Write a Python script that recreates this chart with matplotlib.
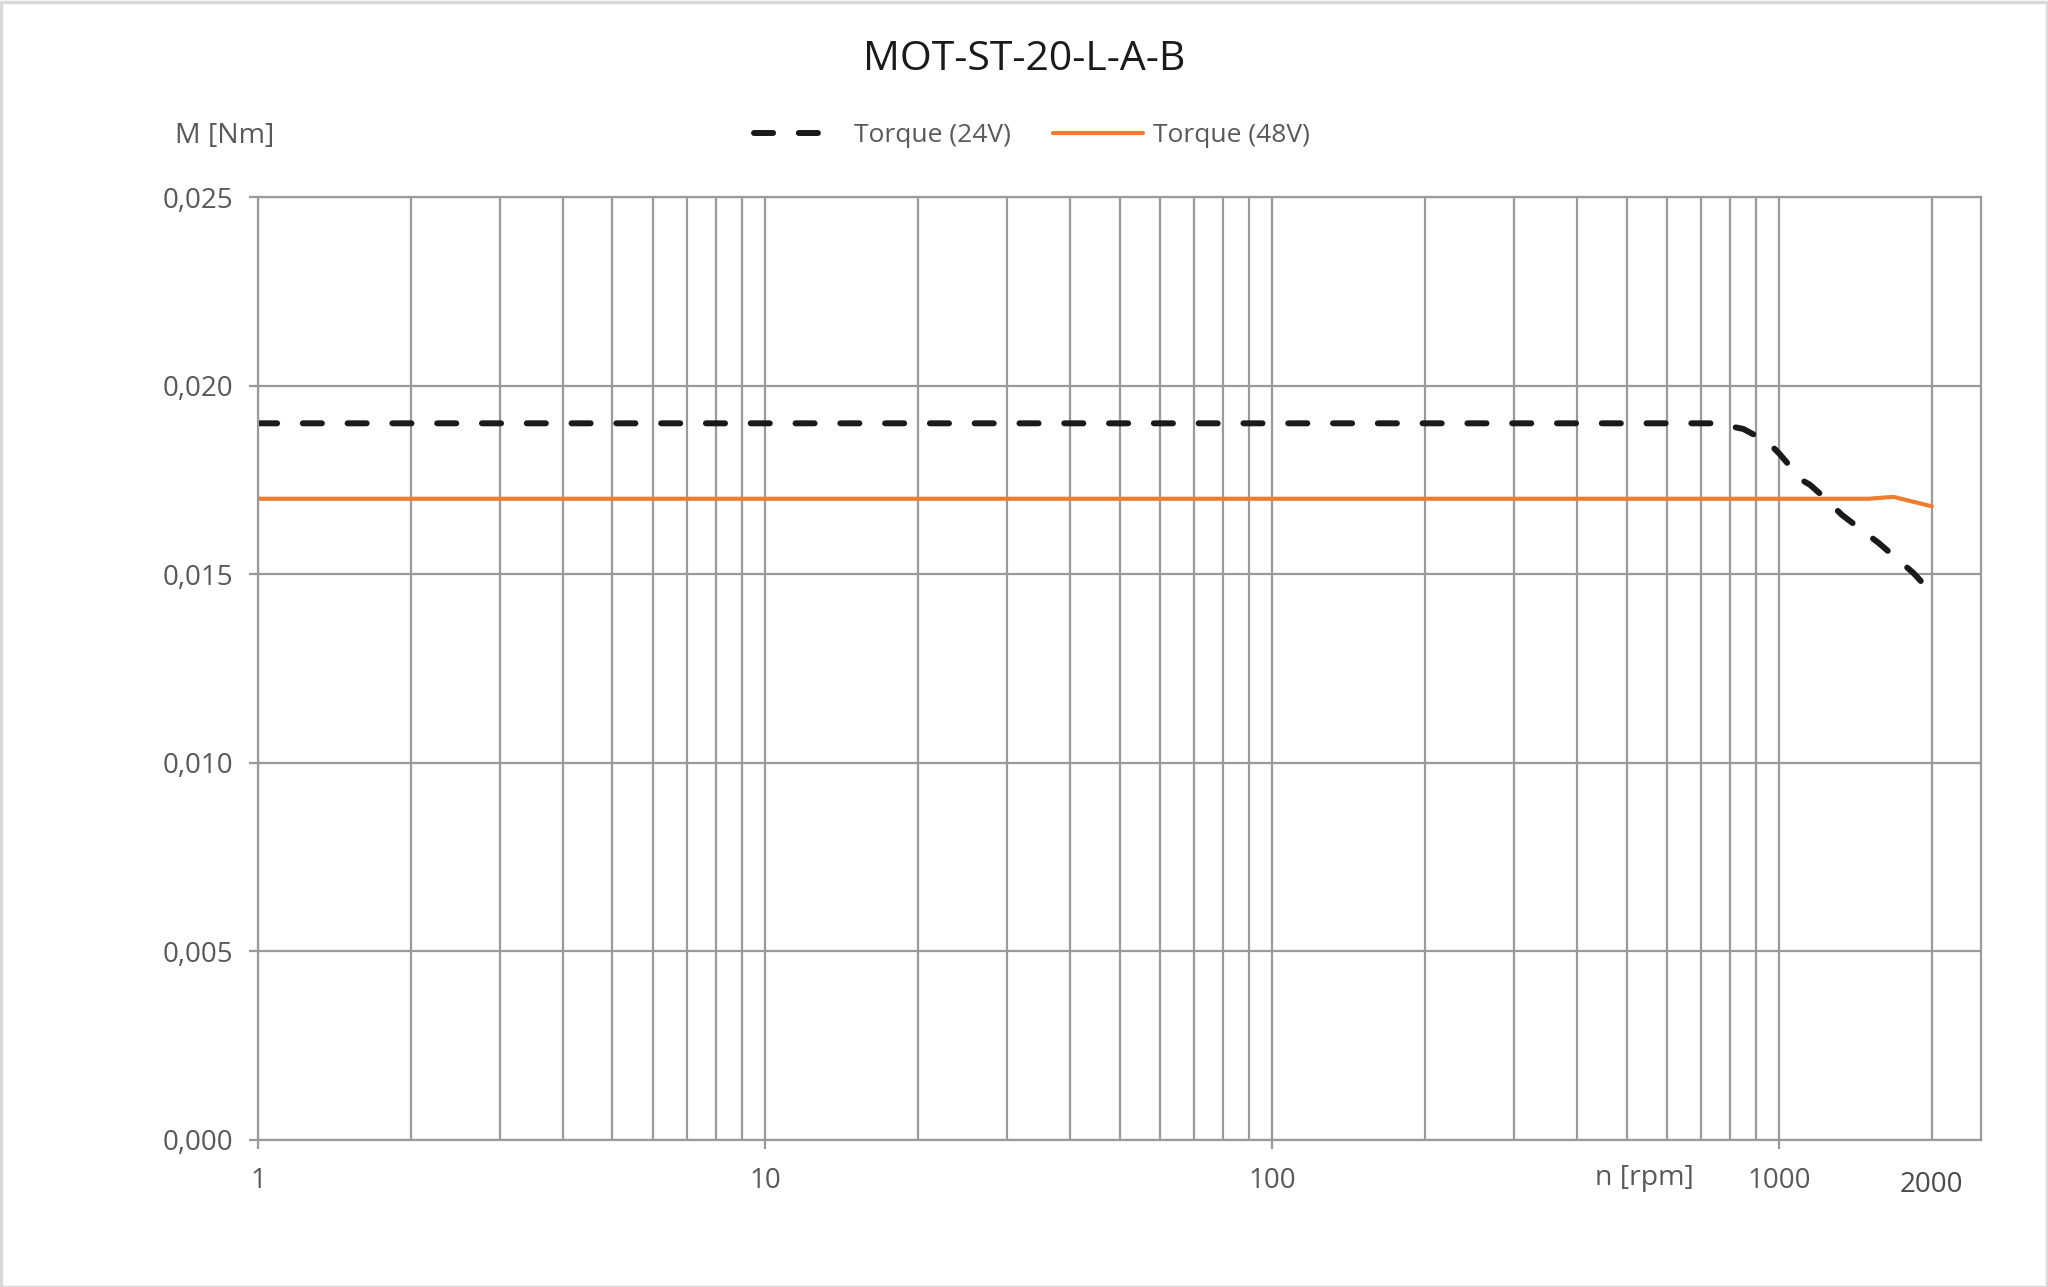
import matplotlib
matplotlib.use("Agg")
import matplotlib.pyplot as plt
from matplotlib.ticker import FixedLocator, FixedFormatter
from matplotlib.patches import Rectangle

plt.rcParams['font.family'] = ['Open Sans', 'DejaVu Sans']

# ---- data ----
title = "MOT-ST-20-L-A-B"
series_names = ["Torque (24V)", "Torque (48V)"]
speed_24 = [1, 750, 850, 950, 1000, 1066, 1100, 1150, 1200, 1330, 1570, 1840, 2000]
torque_24 = [0.0190, 0.0190, 0.01885, 0.0185, 0.0182, 0.01776, 0.01752, 0.01737, 0.01715,
             0.01657, 0.01583, 0.01503, 0.0145]
speed_48 = [1, 1500, 1680, 2000]
torque_48 = [0.0170, 0.0170, 0.01705, 0.0168]
x_major = [1, 10, 100, 1000]
x_major_labels = ["1", "10", "100", "1000"]
x_minor = [2, 3, 4, 5, 6, 7, 8, 9, 20, 30, 40, 50, 60, 70, 80, 90,
           200, 300, 400, 500, 600, 700, 800, 900, 2000]
y_ticks = [0.000, 0.005, 0.010, 0.015, 0.020, 0.025]
y_labels = ["0,000", "0,005", "0,010", "0,015", "0,020", "0,025"]
y_label = "M [Nm]"
x_label = "n [rpm]"

W, H = 2048, 1287
fig = plt.figure(figsize=(W / 100, H / 100), dpi=100)
fig.patch.set_facecolor("white")
fig.patches.append(Rectangle((0.5 / W, 0.5 / H), 1 - 2 / W, 1 - 2 / H, transform=fig.transFigure,
                             fill=False, edgecolor="#d9d9d9", linewidth=2.5))

left, right, bottom, top = 258, 1981, 1140, 197
ax = fig.add_axes([left / W, 1 - bottom / H, (right - left) / W, (bottom - top) / H])

grid_c = "#9a9a9a"
text_c = "#595959"

ax.set_xscale("log")
ax.set_xlim(1, 2500)
ax.set_ylim(0, 0.025)

ax.xaxis.set_major_locator(FixedLocator(x_major))
ax.xaxis.set_major_formatter(FixedFormatter(x_major_labels))
ax.xaxis.set_minor_locator(FixedLocator(x_minor))
ax.xaxis.set_minor_formatter(FixedFormatter(["" if v != 2000 else "2000" for v in x_minor]))
ax.set_yticks(y_ticks)
ax.set_yticklabels(y_labels)

ax.grid(True, which="both", axis="x", color=grid_c, linewidth=1.6)
ax.grid(True, which="major", axis="y", color=grid_c, linewidth=1.6)
ax.set_axisbelow(True)
for s in ax.spines.values():
    s.set_color(grid_c)
    s.set_linewidth(1.6)

ax.tick_params(axis="x", which="major", direction="out", length=6.5, width=1.6, color=grid_c,
               labelsize=20, labelcolor=text_c, pad=13)
ax.tick_params(axis="x", which="minor", length=0, labelsize=20, labelcolor="#4a4a4a", pad=22)
ax.tick_params(axis="y", which="major", direction="out", length=6.5, width=1.6, color=grid_c,
               labelsize=20, labelcolor=text_c, pad=11)

l1, = ax.plot(speed_24, torque_24, color="#1a1a1a", linewidth=4.3, linestyle=(0, (3.2, 4.3)),
              dash_capstyle="round", solid_capstyle="round", label=series_names[0])
l2, = ax.plot(speed_48, torque_48, color="#ED7D31", linewidth=3.0, label=series_names[1],
              solid_capstyle="round")

fig.text(1024 / W, 1 - 60 / H, title, ha="center", va="center", fontsize=29.5, color="#1a1a1a")
fig.text(225 / W, 1 - 136 / H, y_label, ha="center", va="center", fontsize=20.5, color=text_c)
fig.text(1644 / W, 1 - 1178 / H, x_label, ha="center", va="center", fontsize=20.5, color=text_c)

leg = fig.legend(handles=[l1, l2], loc="center", bbox_to_anchor=(1032 / W, 1 - 136 / H),
                 ncol=2, frameon=False, fontsize=19, handlelength=3.4, handletextpad=0.4,
                 columnspacing=1.6, labelcolor=text_c)

fig.savefig("out.png", dpi=100, facecolor="white")
